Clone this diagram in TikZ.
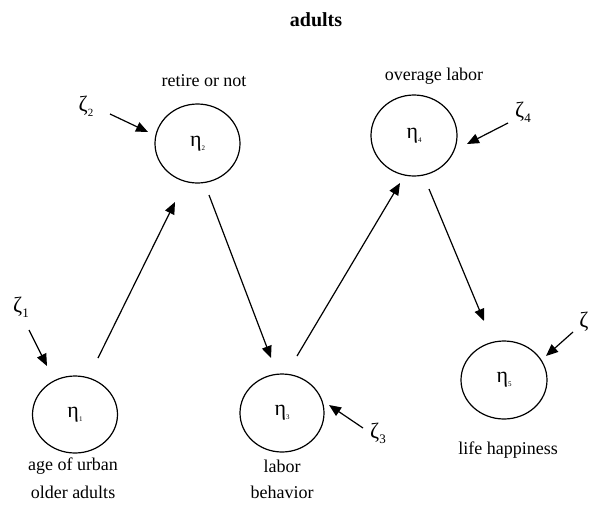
\documentclass[tikz,border=0pt]{standalone}
\usepackage{fontspec}
\setmainfont{Liberation Serif}
\usetikzlibrary{arrows.meta,calc,shapes.geometric}
\newcommand{\etalab}[1]{η\raisebox{-4pt}{\fontsize{7}{7}\selectfont #1}}
\newcommand{\zetalab}[2]{ζ\raisebox{-5pt}{\fontsize{#2}{#2}\selectfont #1}}
\begin{document}
\begin{tikzpicture}[x=1pt,y=-1pt,
  lat/.style={ellipse,draw,line width=1.2pt,inner sep=0pt,font=\fontsize{22}{22}\selectfont},
  lbl/.style={font=\fontsize{18}{18}\selectfont,inner sep=0pt},
  zlbl/.style={font=\fontsize{22}{22}\selectfont,inner sep=0pt},
  arr/.style={line width=1.2pt,-{Triangle[length=12pt,width=10pt]}}]
\useasboundingbox (0,0) rectangle (591,504);
\node[font=\bfseries\fontsize{20}{20}\selectfont] (title) at (316,20) {adults};
% latent variables
\node[lat,minimum width=85pt,minimum height=77pt] (e1) at (75,414.5) {\etalab{1}};
\node[lat,minimum width=85pt,minimum height=79pt] (e2) at (197.5,143.5) {\etalab{2}};
\node[lat,minimum width=84pt,minimum height=78pt] (e3) at (282,413) {\etalab{3}};
\node[lat,minimum width=86pt,minimum height=81pt] (e4) at (414,135.5) {\etalab{4}};
\node[lat,minimum width=86pt,minimum height=78pt] (e5) at (504,380) {\etalab{5}};
% labels
\node[lbl] (l2) at (204,81) {retire or not};
\node[lbl] (l4) at (434,76) {overage labor};
\node[lbl] (l1a) at (73,466) {age of urban};
\node[lbl] (l1b) at (73,492) {older adults};
\node[lbl] (l3a) at (282,466) {labor};
\node[lbl] (l3b) at (282,492) {behavior};
\node[lbl] (l5) at (508,450) {life happiness};
% disturbances
\node[zlbl] (z1) at (21,307) {\zetalab{1}{13}};
\node[zlbl] (z2) at (86,106) {\zetalab{2}{11}};
\node[zlbl] (z3) at (378,433) {\zetalab{3}{13}};
\node[zlbl] (z4) at (523,112) {\zetalab{4}{13}};
\node[zlbl] (z5) at (584,322) {ζ};
% structural paths
\draw[arr] ($(e1)+(23,-56.5)$) -- ($(e2)+(-22.5,58.5)$);
\draw[arr] ($(e2)+(11.5,51.5)$) -- ($(e3)+(-11,-55)$);
\draw[arr] ($(e3)+(15,-57)$) -- ($(e4)+(-14,47.5)$);
\draw[arr] ($(e4)+(15,53.5)$) -- ($(e5)+(-20,-59)$);
% disturbance paths
\draw[arr] ($(z1)+(8,23)$) -- ($(e1)+(-28,-48.5)$);
\draw[arr] ($(z2)+(24,8)$) -- ($(e2)+(-49.5,-11.5)$);
\draw[arr] ($(z3)+(-15,-5)$) -- ($(e3)+(47,-8)$);
\draw[arr] ($(z4)+(-15,11)$) -- ($(e4)+(53,8.5)$);
\draw[arr] ($(z5)+(-11,10)$) -- ($(e5)+(42,-24)$);
\end{tikzpicture}
\end{document}
